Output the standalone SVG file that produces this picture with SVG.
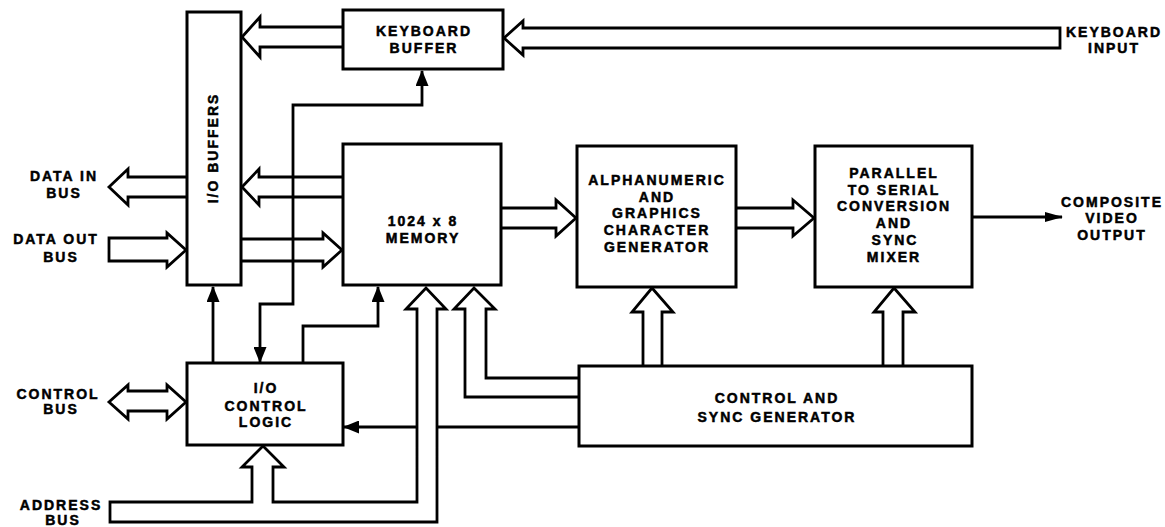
<svg xmlns="http://www.w3.org/2000/svg" width="1165" height="527" viewBox="0 0 1165 527">
<style>
.box{fill:#fff;stroke:#000;stroke-width:3}
.bus{fill:none;stroke:#000;stroke-width:2.8;stroke-linejoin:miter}
.ln{fill:none;stroke:#000;stroke-width:2.8}
text{font-family:"Liberation Sans",Arial,sans-serif;font-weight:bold;font-size:14px;letter-spacing:2px;text-anchor:middle;fill:#000;stroke:#000;stroke-width:0.5}
</style>
<defs>
<marker id="ah" viewBox="0 0 16 13" refX="15" refY="6.5" markerWidth="16" markerHeight="13" markerUnits="userSpaceOnUse" orient="auto-start-reverse">
<path d="M0,0 L16,6.5 L0,13 Z" fill="#000"/>
</marker>
<marker id="ah2" viewBox="0 0 18 10" refX="17" refY="5" markerWidth="18" markerHeight="10" markerUnits="userSpaceOnUse" orient="auto">
<path d="M0,0 L18,5 L0,10 Z" fill="#000"/>
</marker>
</defs>

<g id="connectors">
<path class="bus" d="M1060,28 L523,28 L523,21 L504,38 L523,55 L523,48 L1060,48 Z"/>
<path class="bus" d="M343,27 L260,27 L260,17 L242,37 L260,57 L260,47 L343,47"/>
<path class="bus" d="M343,177 L259,177 L259,169 L242,187 L259,205 L259,197 L343,197"/>
<path class="bus" d="M187,177 L128,177 L128,169 L109,187 L128,205 L128,197 L187,197"/>
<path class="bus" d="M109,238 L167,238 L167,233 L186,250 L167,267 L167,261 L109,261 Z"/>
<path class="bus" d="M241,239 L323,239 L323,233 L342,250 L323,267 L323,261 L241,261"/>
<path class="bus" d="M501,208 L556,208 L556,200 L576,218 L556,236 L556,228 L501,228"/>
<path class="bus" d="M736,208 L793,208 L793,200 L814,218 L793,236 L793,228 L736,228"/>
<path class="bus" d="M643,366 L643,312 L632,312 L652,288 L673,312 L662,312 L662,366"/>
<path class="bus" d="M883,366 L883,312 L874,312 L894,288 L915,312 L903,312 L903,366"/>
<path class="bus" d="M128,391 L167,391 L167,385 L186,402 L167,419 L167,411 L128,411 L128,419 L109,402 L128,385 Z"/>
<path class="bus" d="M110,502 L252,502 L252,467 L242,467 L263,446 L284,467 L273,467 L273,502 L417,502 L417,309 L406,309 L426,288 L446,309 L437,309 L437,522 L110,522 Z"/>
<path class="bus" d="M579,378 L486,378 L486,309 L495,309 L474,288 L454,309 L465,309 L465,397 L579,397"/>
<path class="ln" d="M260,362 L260,304 L293,304 L293,105 L422,105 L422,71" marker-start="url(#ah)" marker-end="url(#ah)"/>
<path class="ln" d="M213,363 L213,287" marker-end="url(#ah)"/>
<path class="ln" d="M303,363 L303,326 L378,326 L378,287" marker-end="url(#ah)"/>
<path class="ln" d="M579,427 L437,427"/>
<path class="ln" d="M417,427 L344,427" marker-end="url(#ah)"/>
<path class="ln" d="M972,217 L1062,217" marker-end="url(#ah2)"/>
</g>

<g id="io-buffers">
<rect class="box" x="187" y="12" width="54" height="273"/>
<text x="218" y="148" transform="rotate(-90 218 148)">I/O BUFFERS</text>
</g>
<g id="keyboard-buffer">
<rect class="box" x="343" y="10" width="160" height="59"/>
<text x="424" y="36">KEYBOARD</text>
<text x="424" y="53">BUFFER</text>
</g>
<g id="memory">
<rect class="box" x="343" y="144" width="158" height="141"/>
<text x="423" y="226">1024 x 8</text>
<text x="423" y="243">MEMORY</text>
</g>
<g id="char-generator">
<rect class="box" x="577" y="146" width="159" height="141"/>
<text x="657" y="185">ALPHANUMERIC</text>
<text x="657" y="202">AND</text>
<text x="657" y="218">GRAPHICS</text>
<text x="657" y="235">CHARACTER</text>
<text x="657" y="252">GENERATOR</text>
</g>
<g id="parallel-serial">
<rect class="box" x="815" y="146" width="157" height="141"/>
<text x="894" y="178">PARALLEL</text>
<text x="894" y="195">TO SERIAL</text>
<text x="894" y="211">CONVERSION</text>
<text x="894" y="228">AND</text>
<text x="895" y="245">SYNC</text>
<text x="894" y="262">MIXER</text>
</g>
<g id="io-control-logic">
<rect class="box" x="187" y="363" width="156" height="82"/>
<text x="266" y="393">I/O</text>
<text x="266" y="411">CONTROL</text>
<text x="266" y="427">LOGIC</text>
</g>
<g id="control-sync-generator">
<rect class="box" x="579" y="366" width="393" height="80"/>
<text x="777" y="403">CONTROL AND</text>
<text x="777" y="422">SYNC GENERATOR</text>
</g>
<g id="labels">
<text x="1114" y="37">KEYBOARD</text>
<text x="1114" y="53">INPUT</text>
<text x="1112" y="207">COMPOSITE</text>
<text x="1112" y="223">VIDEO</text>
<text x="1112" y="240">OUTPUT</text>
<text x="64" y="181">DATA IN</text>
<text x="64" y="198">BUS</text>
<text x="56" y="244">DATA OUT</text>
<text x="61" y="262">BUS</text>
<text x="58" y="399">CONTROL</text>
<text x="61" y="414">BUS</text>
<text x="61" y="510">ADDRESS</text>
<text x="63" y="525">BUS</text>
</g>
</svg>
